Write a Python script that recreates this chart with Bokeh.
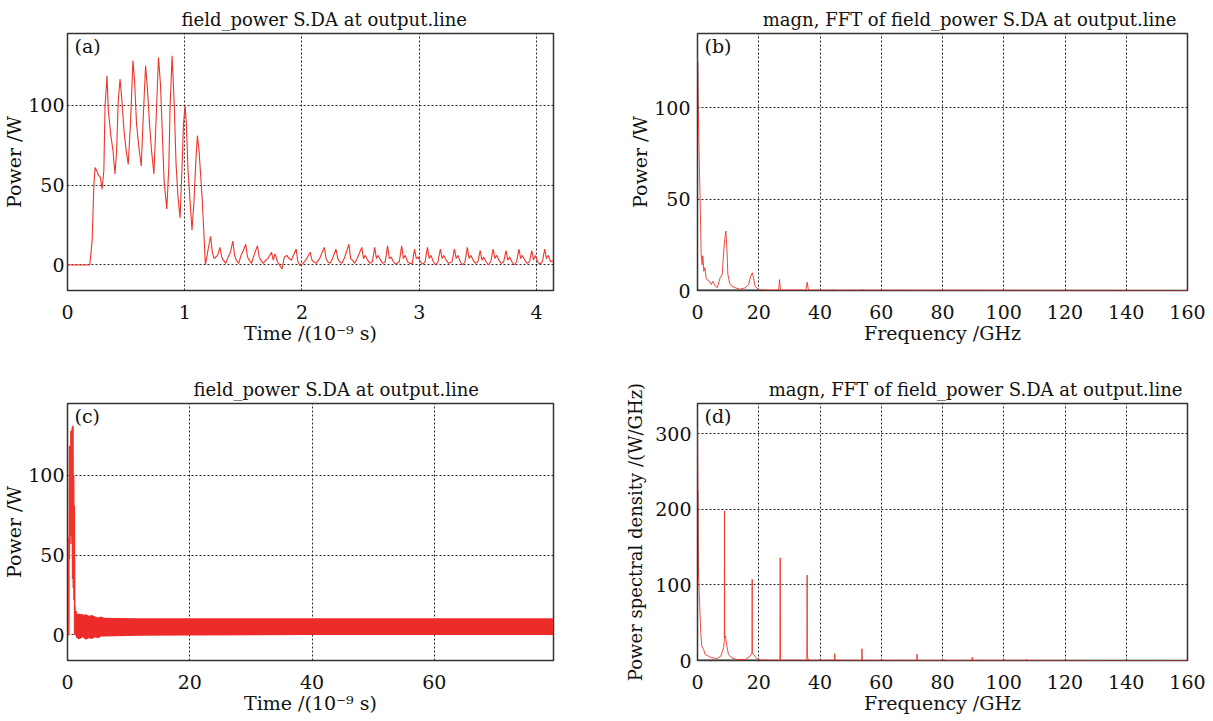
from bokeh.plotting import figure
from bokeh.layouts import column, row
from bokeh.models import Range1d, FixedTicker, Label
from bokeh.embed import file_html
from bokeh.resources import INLINE

# ---------------- data ----------------
# (a) time trace, t in ns, power in W
a_t = [0, 0.19, 0.21, 0.225, 0.235, 0.25, 0.265, 0.28, 0.295, 0.31, 0.32, 0.337, 0.348, 0.368,
       0.388, 0.405, 0.419, 0.433, 0.448, 0.462, 0.482, 0.501, 0.518, 0.538, 0.558, 0.572, 0.589,
       0.609, 0.629, 0.646, 0.666, 0.683, 0.70, 0.717, 0.737, 0.754, 0.776, 0.793, 0.807, 0.824,
       0.847, 0.864, 0.875, 0.892, 0.909, 0.926, 0.943, 0.96, 0.977, 0.989, 1.003, 1.014, 1.028,
       1.045, 1.062, 1.079, 1.096, 1.108, 1.122, 1.15, 1.176,
       1.20, 1.22, 1.235, 1.25, 1.265, 1.28, 1.30, 1.315, 1.33, 1.35, 1.37, 1.39, 1.41, 1.425,
       1.44, 1.46, 1.48, 1.50, 1.52, 1.535, 1.55, 1.57, 1.59, 1.62, 1.635, 1.65, 1.67, 1.69,
       1.71, 1.74, 1.755, 1.77, 1.79, 1.83, 1.85, 1.87, 1.89, 1.91, 1.95, 1.965, 1.985, 2.00,
       2.02, 2.04, 2.07, 2.085, 2.10, 2.12, 2.15, 2.19, 2.205, 2.22, 2.24, 2.26, 2.29, 2.305,
       2.32, 2.34, 2.36, 2.40, 2.415, 2.43, 2.45, 2.47, 2.51, 2.525, 2.54, 2.56, 2.58, 2.60,
       2.62, 2.635, 2.65, 2.67, 2.69, 2.71, 2.73, 2.745, 2.76, 2.78, 2.80, 2.83, 2.85, 2.865,
       2.88, 2.90, 2.92, 2.94, 2.96, 2.975, 2.99, 3.01, 3.03, 3.05, 3.07, 3.085, 3.10, 3.12,
       3.14, 3.16, 3.18, 3.195, 3.21, 3.23, 3.25, 3.28, 3.30, 3.315, 3.33, 3.35, 3.37, 3.39,
       3.41, 3.425, 3.44, 3.46, 3.48, 3.50, 3.52, 3.535, 3.55, 3.57, 3.59, 3.61, 3.63, 3.645,
       3.66, 3.68, 3.70, 3.72, 3.74, 3.755, 3.77, 3.79, 3.81, 3.83, 3.85, 3.865, 3.88, 3.90,
       3.92, 3.94, 3.96, 3.975, 3.99, 4.01, 4.03, 4.05, 4.07, 4.085, 4.10, 4.12, 4.145]
a_p = [0, 0, 15, 50, 61, 59, 56, 55, 47.5, 59, 99, 118.5, 97, 82,
       71.5, 57, 71.5, 103, 116.5, 105, 84, 71.5, 63, 90, 128, 115.5, 88,
       73.5, 62, 92.5, 125, 109, 88, 71.5, 57, 88, 130, 113, 86, 52.5,
       35, 61, 99, 131, 103, 63, 42, 29.5, 61, 88, 100, 88, 59,
       40, 22, 40, 67, 81, 71.5, 40, 0,
       10, 18, 8, 4, 5, 6, 11, 5, 3, 1, 5, 8, 15, 6,
       3, 1, 6, 9, 13, 5, 3, 1, 6, 12, 5, 3, 1, 3,
       4, 8, 3, 7, 2, -2.5, 5, 6, 4, 3, 10, 2, -0.5, 0.5,
       2, 4, 8, 3, 2, 1, 4, 11, 4, 2, 1, 4, 10, 4,
       2, 1, 4, 13, 4, 3, 1, 4, 11, 4, 6, 3, 1, 2,
       11, 4, 6, 3, 1, 2, 12, 4, 5, 2, 0.5, 2, 12, 4,
       6, 2, 1, 1, 10, 4, 5, 2, 0.5, 2, 11, 4, 6, 2,
       0, 2, 10, 4, 6, 3, 1, 2, 10, 4, 6, 2, 0, 2,
       11, 4, 6, 3, 1, 2, 9, 3, 5, 2, 0, 2, 10, 4,
       6, 3, 1, 2, 9, 3, 5, 2, 0, 2, 10, 4, 6, 3,
       1, 2, 9, 3, 6, 2, 0.5, 2, 10, 4, 6, 2, 3]

# (b) FFT magnitude, f in GHz, power in W
b_f = [0, 0.2, 0.44, 0.87, 1.2, 1.5, 1.74, 2.07, 2.4, 2.83, 3.3, 3.9, 4.5, 5.0, 5.8, 6.5, 7.4,
       8.1, 8.5, 8.9, 9.26, 9.6, 9.9, 10.5, 11.2, 12.3, 13.9, 15.6, 16.7, 17.4, 17.9, 18.3,
       18.8, 19.9, 22.7, 26.5, 26.8, 27.1, 35.4, 35.8, 36.2, 44.2, 44.5, 44.8, 53.5, 53.8,
       54.1, 160]
b_p = [127.5, 102, 82, 48, 19.5, 14, 19, 10.5, 12.5, 7, 5.5, 5, 3.3, 5, 2.4, 1.5, 7,
       9, 20, 28, 32.5, 23, 9, 4, 2.4, 1.5, 0.7, 1.5, 3.3, 8, 9.7, 7,
       2.4, 0.5, 0.3, 0.3, 6, 0.3, 0.3, 4.5, 0.3, 0.2, 0.6, 0.2, 0.2, 0.8,
       0.2, 0]
b_dark_f = [0, 0]
b_dark_p = [125, 95]
base_f = [0, 20]
base_p = [0, 0]

# (c) long time trace: envelope of the steady oscillation band
c_band_t = [1.25, 1.5, 2.0, 2.5, 3.0, 3.5, 4.0, 4.5, 5.0, 5.5, 6.0, 8, 12, 20, 40, 60, 79.5]
c_band_hi = [14, 13, 13.5, 12.5, 13, 12, 12.5, 11.5, 11, 11.5, 10.8, 10.6, 10.5, 10.5, 10.5, 10.5, 10.5]
c_band_lo = [0, -2, -2.5, -1.5, -3, -2, -2.5, -1.5, -2, -1, -1, -0.8, -0.5, -0.3, 0, 0, 0]

# (d) power spectral density, f in GHz, W/GHz
d_f = [0, 0.3, 0.65, 1.1, 1.4, 2.0, 2.5, 3.6, 4.7, 6.3, 7.6, 8.5, 8.75, 8.82, 8.9, 9.15, 9.6,
       10.1, 11.2, 12.9, 15.6, 17.2, 17.8, 17.86, 17.92, 18.3, 19.4, 20.5, 26.9, 27.0, 27.1,
       35.7, 35.8, 35.9, 36.2, 44.6, 44.8, 45.0, 53.6, 53.7, 53.8, 71.6, 71.7, 71.8, 80.5,
       80.6, 80.7, 89.6, 89.7, 89.8, 107.3, 107.4, 107.5, 160]
d_p = [310, 121, 79, 34.5, 19, 14.6, 8, 5.7, 3.5, 2.6, 5.7, 16.8, 25, 198, 30, 32, 19,
       8, 3.5, 1.3, 1.3, 5.7, 10, 107.5, 9, 8, 2.6, 0.9, 0.5, 136, 0.5,
       0.5, 113, 5, 0.5, 0.5, 9, 0.5, 0.3, 15.5, 0.3, 0.2, 8.5, 0.2, 0.2,
       1, 0.2, 0.2, 4.4, 0.2, 0.1, 1.8, 0.1, 0]
d_dark_f = [0, 0]
d_dark_p = [225, 110]

title_time = "field_power S.DA at output.line"
title_fft = "magn, FFT of field_power S.DA at output.line"
xlab_time = "Time /(10\u207b\u2079 s)"
xlab_freq = "Frequency /GHz"
ylab_pow = "Power /W"
ylab_psd = "Power spectral density /(W/GHz)"

ticks_a_x = [0, 1, 2, 3, 4]
ticks_c_x = [0, 20, 40, 60]
ticks_f_x = [0, 20, 40, 60, 80, 100, 120, 140, 160]
ticks_pow_y = [0, 50, 100]
ticks_psd_y = [0, 100, 200, 300]

RED = "#f0342a"
FONT = "DejaVu Serif"


def make_fig(w, h, xr, yr, bl, br, bt, bb, title, align, toff, xlab, ylab, xt, yt, tag,
             ylab_stand=0, ylab_lstand=3, ylab_size="19px"):
    p = figure(width=w, height=h, x_range=Range1d(*xr), y_range=Range1d(*yr),
               output_backend="svg", toolbar_location=None,
               min_border_left=bl, min_border_right=br, min_border_top=bt, min_border_bottom=bb)
    p.title.text = title
    p.title.text_font = FONT
    p.title.text_font_size = "18px"
    p.title.text_font_style = "normal"
    p.title.text_color = "#111111"
    p.title.align = align
    p.title.offset = toff
    p.title.standoff = 8
    p.background_fill_color = "white"
    p.border_fill_color = "white"
    p.outline_line_color = "#333333"
    p.outline_line_width = 1.5
    for ax, ticks in ((p.xaxis, xt), (p.yaxis, yt)):
        ax.ticker = FixedTicker(ticks=ticks)
        ax.axis_line_color = None
        ax.major_tick_line_color = None
        ax.minor_tick_line_color = None
        ax.major_tick_in = 0
        ax.major_tick_out = 0
        ax.minor_tick_in = 0
        ax.minor_tick_out = 0
        ax.major_label_text_font = FONT
        ax.major_label_text_font_size = "19px"
        ax.major_label_text_color = "#111111"
        ax.axis_label_text_font = FONT
        ax.axis_label_text_font_size = "19px"
        ax.axis_label_text_font_style = "normal"
        ax.axis_label_text_color = "#111111"
    p.yaxis.axis_label_text_font_size = ylab_size
    p.xaxis.axis_label = xlab
    p.yaxis.axis_label = ylab
    p.xaxis.major_label_standoff = 14
    p.xaxis.axis_label_standoff = 0
    p.yaxis.major_label_standoff = ylab_lstand
    p.yaxis.axis_label_standoff = ylab_stand
    p.xgrid.ticker = FixedTicker(ticks=xt)
    p.ygrid.ticker = FixedTicker(ticks=yt)
    for g in (p.xgrid, p.ygrid):
        g.grid_line_color = "#111111"
        g.grid_line_dash = "2 2"
        g.grid_line_width = 1
        g.grid_line_alpha = 0.9
    p.add_layout(Label(x=xr[0], y=yr[1], x_offset=7, y_offset=-1, text=tag,
                       text_baseline="top", text_font=FONT, text_font_size="19px",
                       text_color="#111111"))
    return p


WL, WR = 615, 596
HT, HB = 372, 347

pa = make_fig(WL, HT, (0, 4.145), (-16, 145), 66, 62, 33, 82, title_time, "left", 114,
              xlab_time, ylab_pow, ticks_a_x, ticks_pow_y, "(a)")
pa.line(a_t, a_p, line_color=RED, line_width=1.1)

pb = make_fig(WR, HT, (0, 160), (0, 140.5), 82, 24, 33, 82, title_fft, "right", 11,
              xlab_freq, ylab_pow, ticks_f_x, ticks_pow_y, "(b)", ylab_lstand=7)
pb.line(base_f, base_p, line_color="#444444", line_width=2)
pb.line(b_f, b_p, line_color=RED, line_width=1, line_alpha=0.9)
pb.line(b_dark_f, b_dark_p, line_color="#552222", line_width=1.5)

pc = make_fig(WL, HB, (0, 79.5), (-16, 145), 66, 62, 31, 59, title_time, "left", 126,
              xlab_time, ylab_pow, ticks_c_x, ticks_pow_y, "(c)")
pc.line(a_t, a_p, line_color=RED, line_width=1.6)
pc.varea(x=c_band_t, y1=c_band_lo, y2=c_band_hi, fill_color="#ee2b2b")

pd = make_fig(WR, HB, (0, 160), (0, 340), 82, 24, 31, 59, title_fft, "right", 5,
              xlab_freq, ylab_psd, ticks_f_x, ticks_psd_y, "(d)", ylab_stand=6, ylab_lstand=6,
              ylab_size="18px")
pd.line(base_f, base_p, line_color="#444444", line_width=2)
pd.line(d_f, d_p, line_color=RED, line_width=1, line_alpha=0.9)
pd.line(d_dark_f, d_dark_p, line_color="#552222", line_width=1.5)

layout = column(row(pa, pb), row(pc, pd))
open("out.html", "w").write(file_html(layout, INLINE))
